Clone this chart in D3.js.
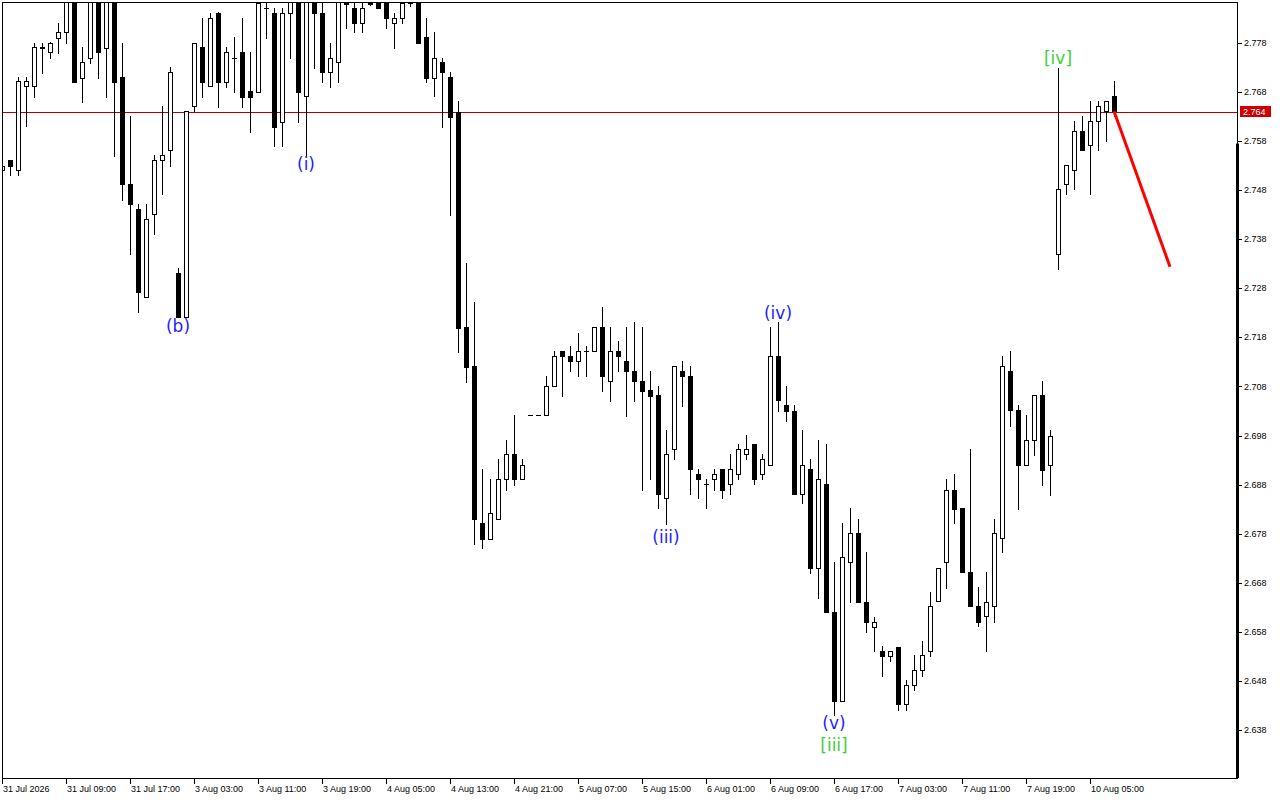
<!DOCTYPE html>
<html><head><meta charset="utf-8">
<script src="https://cdn.jsdelivr.net/npm/d3@7"></script>
<style>
html,body{margin:0;padding:0;background:#fff;}
svg{display:block;}
</style></head>
<body>
<svg id="chart" width="1280" height="800"></svg>
<script>
// ---- data (hourly bars, index 0..139) ----
const openP = [2.7521,2.7541,2.7521,2.7692,2.7692,2.7771,2.7761,2.7791,2.7802,2.7890,
2.7709,2.7750,2.7880,2.7770,2.7885,2.7711,2.7493,2.7442,2.7262,2.7431,
2.7541,2.7561,2.7311,2.7222,2.7651,2.7772,2.7692,2.7841,2.7701,2.7750,
2.7761,2.7682,2.7681,2.7851,2.7841,2.7620,2.7841,2.7868,2.7671,2.7870,
2.7841,2.7720,2.7741,2.7861,2.7851,2.7820,2.7864,2.7861,2.7861,2.7820,
2.7830,2.7862,2.7866,2.7792,2.7709,2.7741,2.7711,2.7640,2.7201,2.7122,
2.6801,2.6770,2.6811,2.6891,2.6942,2.6891,2.7021,2.7021,2.7021,2.7080,
2.7152,2.7142,2.7131,2.7152,2.7152,2.7201,2.7091,2.7152,2.7131,2.7111,
2.7091,2.7072,2.7062,2.6852,2.6952,2.7111,2.7101,2.6901,2.6881,2.6891,
2.6911,2.6881,2.6901,2.6942,2.6962,2.6901,2.6921,2.7142,2.7042,2.7031,
2.6860,2.6911,2.6711,2.6881,2.6621,2.6440,2.6722,2.6781,2.6641,2.6590,
2.6542,2.6531,2.6550,2.6432,2.6471,2.6502,2.6542,2.6642,2.6722,2.6870,
2.6832,2.6701,2.6632,2.6612,2.6632,2.6771,2.7111,2.7032,2.6921,2.6970,
2.7062,2.6921,2.7351,2.7492,2.7521,2.7600,2.7572,2.7621,2.7641,2.7671];
const highP = [2.7530,2.7541,2.7711,2.7711,2.7781,2.7781,2.7782,2.7821,2.7905,2.7910,
2.7772,2.7895,2.7890,2.7900,2.7895,2.7781,2.7632,2.7452,2.7452,2.7552,
2.7651,2.7731,2.7321,2.7641,2.7781,2.7830,2.7841,2.7843,2.7772,2.7792,
2.7830,2.7761,2.7875,2.7868,2.7851,2.7851,2.7872,2.7875,2.7880,2.7878,
2.7861,2.7781,2.7875,2.7870,2.7861,2.7865,2.7868,2.7868,2.7866,2.7841,
2.7866,2.7868,2.7870,2.7830,2.7802,2.7750,2.7721,2.7662,2.7332,2.7252,
2.6912,2.6891,2.6932,2.6971,2.7022,2.6932,2.7021,2.7021,2.7101,2.7152,
2.7152,2.7162,2.7190,2.7162,2.7201,2.7241,2.7201,2.7172,2.7201,2.7211,
2.7201,2.7111,2.7081,2.6991,2.7121,2.7131,2.7121,2.6911,2.6891,2.6911,
2.6911,2.6942,2.6962,2.6981,2.6962,2.6942,2.7201,2.7211,2.7081,2.7042,
2.6991,2.6932,2.6971,2.6962,2.6722,2.6801,2.6832,2.6811,2.6742,2.6611,
2.6551,2.6542,2.6550,2.6482,2.6533,2.6561,2.6661,2.6711,2.6891,2.6901,
2.6832,2.6952,2.6671,2.6701,2.6811,2.7142,2.7152,2.7042,2.7021,2.7062,
2.7091,2.6991,2.7730,2.7531,2.7621,2.7631,2.7661,2.7661,2.7661,2.7702];
const lowP = [2.7521,2.7510,2.7510,2.7610,2.7670,2.7719,2.7750,2.7760,2.7780,2.7701,
2.7660,2.7739,2.7709,2.7670,2.7550,2.7461,2.7351,2.7231,2.7262,2.7390,
2.7472,2.7530,2.7222,2.7222,2.7641,2.7670,2.7692,2.7650,2.7690,2.7681,
2.7650,2.7599,2.7681,2.7791,2.7571,2.7571,2.7750,2.7620,2.7550,2.7730,
2.7701,2.7690,2.7701,2.7810,2.7802,2.7802,2.7858,2.7851,2.7810,2.7770,
2.7820,2.7855,2.7781,2.7701,2.7671,2.7609,2.7430,2.7151,2.7090,2.6760,
2.6751,2.6770,2.6811,2.6870,2.6880,2.6891,2.7021,2.7021,2.7021,2.7080,
2.7061,2.7111,2.7101,2.7101,2.7152,2.7071,2.7051,2.7111,2.7020,2.7051,
2.6870,2.6891,2.6832,2.6799,2.6932,2.7041,2.6860,2.6852,2.6832,2.6870,
2.6852,2.6860,2.6891,2.6932,2.6881,2.6891,2.6921,2.7031,2.7010,2.6860,
2.6842,2.6700,2.6650,2.6621,2.6411,2.6440,2.6641,2.6641,2.6580,2.6542,
2.6491,2.6521,2.6421,2.6421,2.6461,2.6491,2.6531,2.6642,2.6670,2.6801,
2.6701,2.6632,2.6591,2.6542,2.6601,2.6742,2.7000,2.6831,2.6921,2.6940,
2.6880,2.6859,2.7320,2.7472,2.7482,2.7561,2.7472,2.7561,2.7581,2.7631];
const closeP = [2.7530,2.7530,2.7703,2.7703,2.7772,2.7770,2.7781,2.7802,2.7890,2.7701,
2.7741,2.7880,2.7761,2.7885,2.7701,2.7492,2.7451,2.7272,2.7421,2.7541,
2.7552,2.7720,2.7222,2.7641,2.7781,2.7701,2.7830,2.7701,2.7761,2.7750,
2.7670,2.7670,2.7862,2.7851,2.7609,2.7841,2.7865,2.7681,2.7872,2.7841,
2.7720,2.7750,2.7866,2.7860,2.7820,2.7851,2.7860,2.7851,2.7830,2.7830,
2.7861,2.7861,2.7781,2.7709,2.7750,2.7720,2.7630,2.7200,2.7120,2.6811,
2.6770,2.6822,2.6891,2.6942,2.6891,2.6921,2.7021,2.7021,2.7080,2.7142,
2.7142,2.7131,2.7152,2.7152,2.7201,2.7101,2.7152,2.7142,2.7111,2.7091,
2.7071,2.7061,2.6860,2.6942,2.7121,2.7101,2.6911,2.6891,2.6881,2.6901,
2.6870,2.6911,2.6952,2.6952,2.6891,2.6932,2.7142,2.7052,2.7031,2.6860,
2.6921,2.6711,2.6891,2.6621,2.6440,2.6732,2.6781,2.6641,2.6601,2.6601,
2.6531,2.6542,2.6432,2.6471,2.6502,2.6532,2.6632,2.6711,2.6870,2.6831,
2.6701,2.6632,2.6601,2.6641,2.6781,2.7121,2.7032,2.6921,2.6970,2.7062,
2.6910,2.6980,2.7482,2.7531,2.7600,2.7561,2.7621,2.7651,2.7661,2.7641];

const timeLabels = ["31 Jul 2026","31 Jul 09:00","31 Jul 17:00","3 Aug 03:00","3 Aug 11:00","3 Aug 19:00",
"4 Aug 05:00","4 Aug 13:00","4 Aug 21:00","5 Aug 07:00","5 Aug 15:00","6 Aug 01:00","6 Aug 09:00",
"6 Aug 17:00","7 Aug 03:00","7 Aug 11:00","7 Aug 19:00","10 Aug 05:00"];
const timeLabelStep = 8; // one label every 8 bars

const priceTicks = [2.778,2.768,2.758,2.748,2.738,2.728,2.718,2.708,2.698,2.688,2.678,2.668,2.658,2.648,2.638];
const currentPrice = 2.764;

const waveText  = ["(b)","(i)","(iii)","(iv)","(v)","[iii]","[iv]"];
const waveBar   = [22, 38, 83, 97, 104, 104, 132];
const wavePrice = [2.7203, 2.7533, 2.6773, 2.7230, 2.6394, 2.6349, 2.7749];
const waveKind  = ["minor","minor","minor","minor","minor","major","major"];

const projBar   = [139, 146];
const projPrice = [2.7641, 2.7324];

// ---- layout ----
const L = 2, T = 2, R = 1237, B = 778;
const svg = d3.select("#chart");
const x = d3.scaleLinear().domain([0, 154.5]).range([2, 1238]);
const y = d3.scaleLinear().domain([2.638, 2.778]).range([730, 43]);

svg.append("defs").append("clipPath").attr("id","plot")
  .append("rect").attr("x",L+1).attr("y",T+1).attr("width",R-L-1).attr("height",B-T-1);

// frame
svg.append("rect").attr("x",L+0.5).attr("y",T+0.5).attr("width",R-L).attr("height",B-T)
  .attr("fill","none").attr("stroke","#000").attr("shape-rendering","crispEdges");
svg.append("rect").attr("x",R-1).attr("y",y(2.7575)).attr("width",3).attr("height",B-y(2.7575))
  .attr("fill","#000");

const plot = svg.append("g").attr("clip-path","url(#plot)").attr("shape-rendering","crispEdges");

// current price line
plot.append("line").attr("x1",L).attr("x2",R).attr("y1",Math.round(y(currentPrice))+0.5).attr("y2",Math.round(y(currentPrice))+0.5)
  .attr("stroke","#b40000").attr("stroke-width",1);

const bars = d3.range(openP.length).map(i => ({i, o:openP[i], h:highP[i], l:lowP[i], c:closeP[i]}));
const g = plot.selectAll("g.bar").data(bars).join("g").attr("class","bar");
g.append("line")
  .attr("x1",d=>Math.round(x(d.i))+0.5).attr("x2",d=>Math.round(x(d.i))+0.5)
  .attr("y1",d=>Math.round(y(d.h))).attr("y2",d=>Math.round(y(d.l))+1)
  .attr("stroke","#000");
g.each(function(d){
  const sel = d3.select(this);
  const cx = Math.round(x(d.i));
  const yo = Math.round(y(d.o)), yc = Math.round(y(d.c));
  const top = Math.min(yo,yc), bot = Math.max(yo,yc);
  if (bot - top < 2) {
    sel.append("rect").attr("x",cx-2).attr("y",top).attr("width",5).attr("height",Math.max(1,bot-top+1))
      .attr("fill","#000");
  } else if (d.c > d.o) {
    sel.append("rect").attr("x",cx-2+0.5).attr("y",top+0.5).attr("width",4).attr("height",bot-top)
      .attr("fill","#fff").attr("stroke","#000").attr("stroke-width",1);
  } else {
    sel.append("rect").attr("x",cx-2).attr("y",top).attr("width",5).attr("height",bot-top+1)
      .attr("fill","#000");
  }
});

// projection line
svg.append("g").attr("clip-path","url(#plot)").append("line")
  .attr("x1",x(projBar[0])).attr("y1",y(projPrice[0]))
  .attr("x2",x(projBar[1])).attr("y2",y(projPrice[1]))
  .attr("stroke","#ff0000").attr("stroke-width",3);

// wave labels
svg.append("g").selectAll("text").data(waveText).join("text")
  .attr("x",(d,k)=>x(waveBar[k])).attr("y",(d,k)=>y(wavePrice[k]))
  .attr("text-anchor","middle").attr("dominant-baseline","central")
  .attr("font-family","'DejaVu Sans', sans-serif").attr("font-size",17)
  .attr("fill",(d,k)=>waveKind[k]==="major" ? "#3ccf3c" : "#1e1eff")
  .text(d=>d);

// y axis
const ya = svg.append("g").attr("shape-rendering","crispEdges");
ya.selectAll("line").data(priceTicks).join("line")
  .attr("x1",R).attr("x2",R+5).attr("y1",d=>Math.round(y(d))+0.5).attr("y2",d=>Math.round(y(d))+0.5)
  .attr("stroke","#000");
svg.append("g").selectAll("text").data(priceTicks).join("text")
  .attr("x",R+7).attr("y",d=>y(d)).attr("dominant-baseline","central")
  .attr("font-family","'Liberation Sans', Arial, sans-serif").attr("font-size",9).attr("fill","#000")
  .text(d=>d3.format(".3f")(d));

// current price tag
const cp = Math.round(y(currentPrice));
svg.append("rect").attr("x",R+3).attr("y",cp-6).attr("width",31).attr("height",11).attr("fill","#cc0000");
svg.append("text").attr("x",R+6).attr("y",cp).attr("dominant-baseline","central")
  .attr("font-family","'Liberation Sans', Arial, sans-serif").attr("font-size",9).attr("fill","#fff")
  .text(d3.format(".3f")(currentPrice));

// x axis
const xa = svg.append("g");
xa.selectAll("line").data(timeLabels).join("line")
  .attr("x1",(d,k)=>Math.round(x(k*timeLabelStep))+0.5).attr("x2",(d,k)=>Math.round(x(k*timeLabelStep))+0.5)
  .attr("y1",B).attr("y2",B+6).attr("stroke","#000").attr("shape-rendering","crispEdges");
xa.selectAll("text").data(timeLabels).join("text")
  .attr("x",(d,k)=>Math.round(x(k*timeLabelStep))+1).attr("y",B+14)
  .attr("font-family","'Liberation Sans', Arial, sans-serif").attr("font-size",9).attr("fill","#000")
  .text(d=>d);
</script>
</body></html>
